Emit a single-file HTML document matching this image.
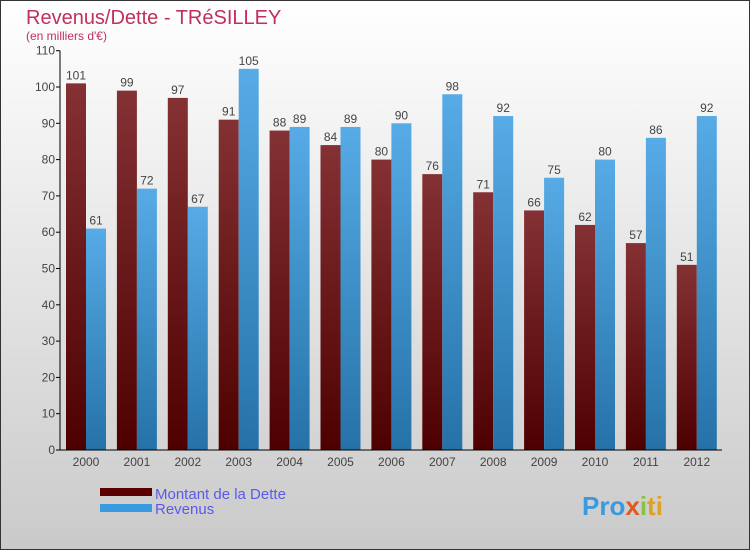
<!DOCTYPE html>
<html><head><meta charset="utf-8"><style>
body{margin:0;width:750px;height:550px;overflow:hidden}
svg{display:block;font-family:"Liberation Sans",sans-serif}
</style></head><body>
<svg id="c" width="750" height="550" xmlns="http://www.w3.org/2000/svg">
<defs>
<linearGradient id="bg" x1="0" y1="0" x2="0" y2="1"><stop offset="0" stop-color="#ffffff"/><stop offset="1" stop-color="#cacaca"/></linearGradient>
<linearGradient id="gd" x1="0" y1="0" x2="0" y2="1"><stop offset="0" stop-color="#843134"/><stop offset="1" stop-color="#4e0000"/></linearGradient>
<linearGradient id="gr" x1="0" y1="0" x2="0" y2="1"><stop offset="0" stop-color="#57abe6"/><stop offset="1" stop-color="#2572a8"/></linearGradient>
</defs>
<rect x="0.5" y="0.5" width="749" height="549" fill="url(#bg)" stroke="#333"/>
<text x="26" y="24" font-size="20" fill="#c0305a">Revenus/Dette - TRéSILLEY</text>
<text x="26" y="40" font-size="12" fill="#c0305a">(en milliers d'€)</text>
<g id="plot"></g>
<rect x="100" y="488" width="52" height="8" fill="#5a0000"/>
<rect x="100" y="504" width="52" height="8" fill="#3a9ae0"/>
<text x="155" y="499" font-size="15" fill="#5a5ae8">Montant de la Dette</text>
<text x="155" y="514" font-size="15" fill="#5a5ae8">Revenus</text>
<text x="582" y="515" font-size="26" font-weight="bold" fill="#3a9ae0">Pro<tspan fill="#e05a20">x</tspan><tspan fill="#8cc040">i</tspan><tspan fill="#e0a020">ti</tspan></text>
</svg>
<script>
const years=["2000","2001","2002","2003","2004","2005","2006","2007","2008","2009","2010","2011","2012"];
const dette=[101,99,97,91,88,84,80,76,71,66,62,57,51];
const revenus=[61,72,67,105,89,89,90,98,92,75,80,86,92];
const yTicks=[0,10,20,30,40,50,60,70,80,90,100,110];
const NS="http://www.w3.org/2000/svg";
const g=document.getElementById('plot');
const x0=60,xStep=50.9,y0=450,yScale=3.63;
const yPos=v=>y0-v*yScale;
function mk(t,a){const e=document.createElementNS(NS,t);for(const k in a)e.setAttribute(k,a[k]);g.appendChild(e);return e;}
yTicks.forEach(v=>{
 const l=mk('line',{x1:x0-4,x2:x0,y1:yPos(v),y2:yPos(v),stroke:'#000'});
 
 
 const t=mk('text',{x:x0-5,y:yPos(v)+4,'text-anchor':'end','font-size':12,fill:'#444'});t.textContent=v;
 
 
});
years.forEach((y,i)=>{
 const gx=x0+6+i*xStep;
 [[dette[i],'url(#gd)',0,'bar-dette'],[revenus[i],'url(#gr)',20,'bar-revenus']].forEach(([v,f,o,n])=>{
  const r=mk('rect',{x:gx+o,y:yPos(v),width:20,height:v*yScale,fill:f});
  
  
  const t=mk('text',{x:gx+o+10,y:yPos(v)-4,'text-anchor':'middle','font-size':12,fill:'#444'});t.textContent=v;
  
  
 });
 const t=mk('text',{x:gx+20,y:y0+16,'text-anchor':'middle','font-size':12,fill:'#444'});t.textContent=y;
 
 
});
const ya=mk('line',{x1:x0,x2:x0,y1:yPos(110),y2:y0,stroke:'#000'});


const xa=mk('line',{x1:x0,x2:722,y1:y0,y2:y0,stroke:'#000'});


</script>
</body></html>
